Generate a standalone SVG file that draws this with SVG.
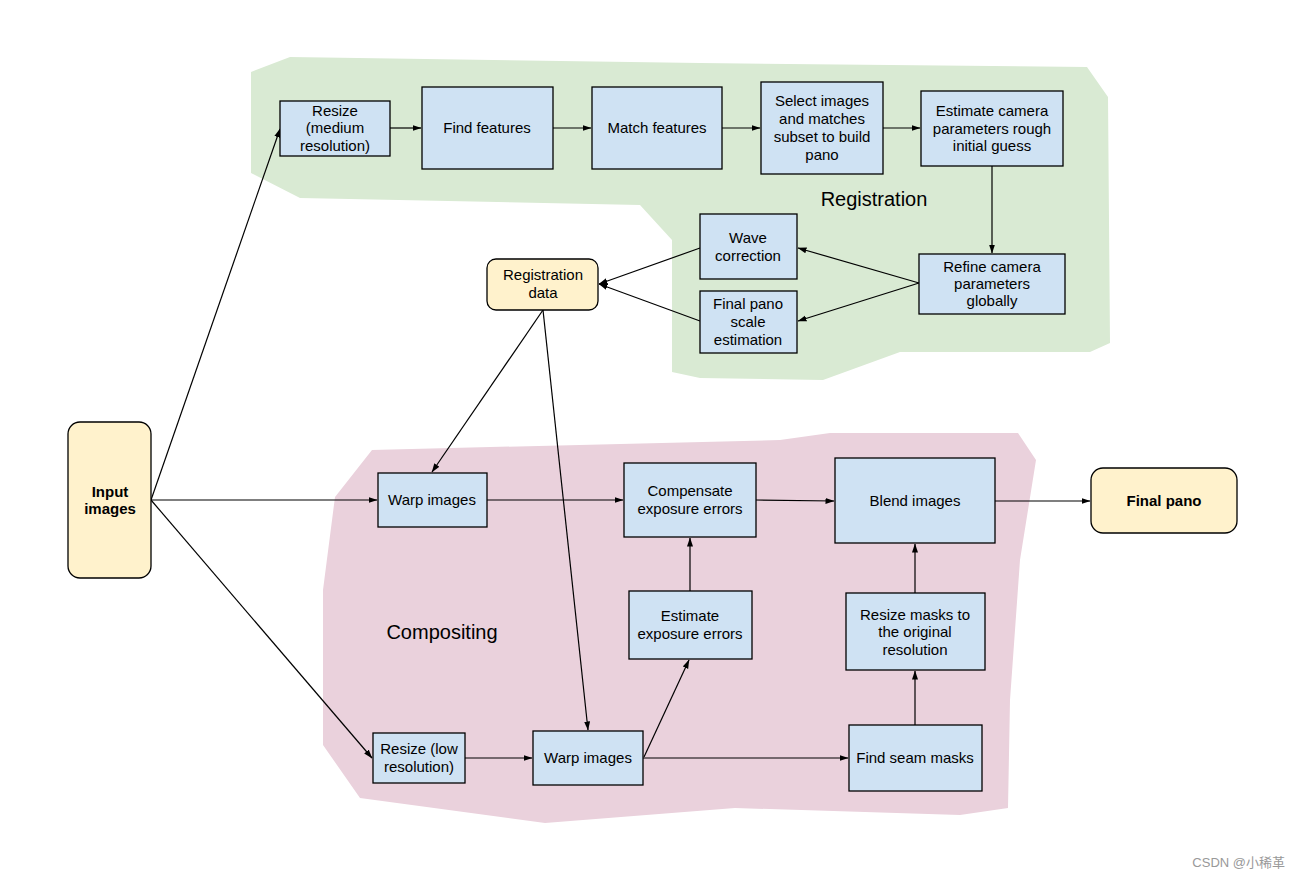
<svg xmlns="http://www.w3.org/2000/svg" width="1300" height="880" viewBox="0 0 1300 880">
<defs>
<marker id="ah" markerWidth="9" markerHeight="7" refX="8.5" refY="3.5" orient="auto" markerUnits="userSpaceOnUse">
<path d="M0,0.5 L9,3.5 L0,6.5 z" fill="#000"/>
</marker>
<style>
.box{fill:#cfe2f3;stroke:#000;stroke-width:1.3}
.term{fill:#fff2cc;stroke:#000;stroke-width:1.3}
.t{font-family:"Liberation Sans",Arial,sans-serif;font-size:15px;fill:#000;text-anchor:middle}
.b{font-weight:bold}
.lbl{font-family:"Liberation Sans",Arial,sans-serif;font-size:20px;fill:#000;text-anchor:middle}
.c{fill:none;stroke:#000;stroke-width:1.2;marker-end:url(#ah)}
</style>
</defs>
<rect width="1300" height="880" fill="#fff"/>
<g id="regions">
<polygon id="registration-area" fill="#d9ead3" points="251,72 290,57 700,63 1087,67 1108,97 1110,343 1090,352 900,352 823,380 700,378 672,372 672,240 640,205 300,198 251,173"/>
<polygon id="compositing-area" fill="#ead1dc" points="372,450 780,440 830,433 1018,433 1036,460 1020,560 1010,700 1008,808 960,815 735,808 545,823 360,798 323,745 323,590 335,497"/>
<text class="lbl" x="874" y="206">Registration</text>
<text class="lbl" x="442" y="639">Compositing</text>
</g>
<g id="connectors">
<line class="c" x1="151" y1="500" x2="280" y2="129"/>
<line class="c" x1="151" y1="500" x2="377" y2="500"/>
<line class="c" x1="151" y1="500" x2="372" y2="758"/>
<line class="c" x1="390" y1="128" x2="421" y2="128"/>
<line class="c" x1="553" y1="128" x2="591" y2="128"/>
<line class="c" x1="722" y1="128" x2="760" y2="128"/>
<line class="c" x1="883" y1="128" x2="920" y2="128"/>
<line class="c" x1="992" y1="166" x2="992" y2="253"/>
<line class="c" x1="919" y1="283" x2="798" y2="248"/>
<line class="c" x1="919" y1="283" x2="798" y2="321"/>
<line class="c" x1="700" y1="248" x2="599" y2="284"/>
<line class="c" x1="700" y1="321" x2="599" y2="284"/>
<line class="c" x1="543" y1="310" x2="432" y2="472"/>
<line class="c" x1="543" y1="310" x2="588" y2="730"/>
<line class="c" x1="487" y1="500" x2="623" y2="500"/>
<line class="c" x1="756" y1="500" x2="834" y2="501"/>
<line class="c" x1="690" y1="591" x2="690" y2="538"/>
<line class="c" x1="644" y1="757" x2="689" y2="660"/>
<line class="c" x1="643" y1="758" x2="848" y2="758"/>
<line class="c" x1="465" y1="758" x2="532" y2="758"/>
<line class="c" x1="915" y1="725" x2="915" y2="671"/>
<line class="c" x1="915" y1="593" x2="915" y2="544"/>
<line class="c" x1="995" y1="501" x2="1090" y2="501"/>
</g>
<g id="input-images">
<rect class="term" x="68" y="422" width="83" height="156" rx="12"/>
<text class="t b" x="110" y="497">Input</text>
<text class="t b" x="110" y="514">images</text>
</g>
<g id="resize-medium">
<rect class="box" x="280" y="101" width="110" height="55"/>
<text class="t" x="335" y="116">Resize</text>
<text class="t" x="335" y="133">(medium</text>
<text class="t" x="335" y="151">resolution)</text>
</g>
<g id="find-features">
<rect class="box" x="422" y="87" width="131" height="82"/>
<text class="t" x="487" y="133">Find features</text>
</g>
<g id="match-features">
<rect class="box" x="592" y="87" width="130" height="82"/>
<text class="t" x="657" y="133">Match features</text>
</g>
<g id="select-images">
<rect class="box" x="761" y="82" width="122" height="92"/>
<text class="t" x="822" y="106">Select images</text>
<text class="t" x="822" y="124">and matches</text>
<text class="t" x="822" y="142">subset to build</text>
<text class="t" x="822" y="160">pano</text>
</g>
<g id="estimate-camera">
<rect class="box" x="921" y="91" width="142" height="75"/>
<text class="t" x="992" y="116">Estimate camera</text>
<text class="t" x="992" y="134">parameters rough</text>
<text class="t" x="992" y="151">initial guess</text>
</g>
<g id="refine-camera">
<rect class="box" x="919" y="254" width="146" height="60"/>
<text class="t" x="992" y="272">Refine camera</text>
<text class="t" x="992" y="289">parameters</text>
<text class="t" x="992" y="306">globally</text>
</g>
<g id="wave-correction">
<rect class="box" x="700" y="214" width="97" height="65"/>
<text class="t" x="748" y="243">Wave</text>
<text class="t" x="748" y="261">correction</text>
</g>
<g id="final-pano-scale">
<rect class="box" x="700" y="291" width="97" height="62"/>
<text class="t" x="748" y="309">Final pano</text>
<text class="t" x="748" y="327">scale</text>
<text class="t" x="748" y="345">estimation</text>
</g>
<g id="registration-data">
<rect class="term" x="487" y="259" width="111" height="51" rx="9"/>
<text class="t" x="543" y="280">Registration</text>
<text class="t" x="543" y="298">data</text>
</g>
<g id="warp-images-top">
<rect class="box" x="378" y="473" width="109" height="54"/>
<text class="t" x="432" y="505">Warp images</text>
</g>
<g id="compensate-exposure">
<rect class="box" x="624" y="463" width="132" height="74"/>
<text class="t" x="690" y="496">Compensate</text>
<text class="t" x="690" y="514">exposure errors</text>
</g>
<g id="blend-images">
<rect class="box" x="835" y="458" width="160" height="85"/>
<text class="t" x="915" y="506">Blend images</text>
</g>
<g id="final-pano">
<rect class="term" x="1091" y="468" width="146" height="65" rx="12"/>
<text class="t b" x="1164" y="506">Final pano</text>
</g>
<g id="estimate-exposure">
<rect class="box" x="629" y="591" width="123" height="68"/>
<text class="t" x="690" y="621">Estimate</text>
<text class="t" x="690" y="639">exposure errors</text>
</g>
<g id="resize-masks">
<rect class="box" x="846" y="593" width="139" height="77"/>
<text class="t" x="915" y="620">Resize masks to</text>
<text class="t" x="915" y="637">the original</text>
<text class="t" x="915" y="655">resolution</text>
</g>
<g id="find-seam-masks">
<rect class="box" x="849" y="725" width="133" height="66"/>
<text class="t" x="915" y="763">Find seam masks</text>
</g>
<g id="resize-low">
<rect class="box" x="373" y="733" width="92" height="50"/>
<text class="t" x="419" y="754">Resize (low</text>
<text class="t" x="419" y="772">resolution)</text>
</g>
<g id="warp-images-bottom">
<rect class="box" x="533" y="731" width="110" height="54"/>
<text class="t" x="588" y="763">Warp images</text>
</g>
<text x="1285" y="867" font-family="'Liberation Sans','Noto Sans CJK SC',sans-serif" font-size="13" fill="#999" text-anchor="end">CSDN @小稀革</text>
</svg>
